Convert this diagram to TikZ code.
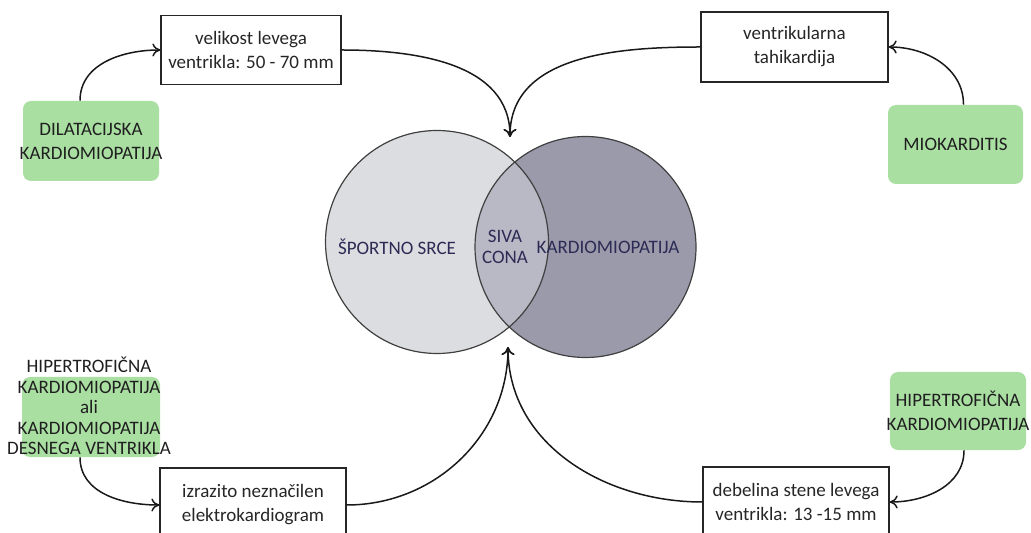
\documentclass[tikz,border=0pt]{standalone}
\usepackage{fontspec}
\setmainfont{Carlito}
\usepackage{xcolor}
\usetikzlibrary{arrows.meta}
\definecolor{zelena}{HTML}{AADFA2}
\definecolor{sportna}{HTML}{DCDDE0}
\definecolor{kardio}{HTML}{9A9AAB}
\definecolor{siva}{HTML}{B9B9C5}
\definecolor{temna}{HTML}{2B2B55}
\definecolor{besedilo}{HTML}{262626}
\tikzset{
  okvir/.style={draw=black!85, line width=0.65pt, fill=white, align=center, inner sep=0pt, text=besedilo},
  ozadje/.style={fill=zelena, rounded corners=4pt, inner sep=0pt},
  zeleno/.style={align=center, inner sep=0pt, text=black!88},
  krogtekst/.style={align=center, inner sep=0pt, text=temna},
  rob/.style={draw=black!75, line width=0.6pt},
  puscica/.style={-{To[length=4pt,width=6.5pt]}, line width=0.75pt, draw=black!90}
}
\begin{document}
\begin{tikzpicture}
    [x=0.5pt, y=-0.5pt, font=\fontsize{9.5}{12}\selectfont]
    \useasboundingbox (0,0) rectangle (1031,533);
    %venn
    \fill[sportna] (437,242) circle[radius=55.75pt];
    \fill[kardio] (585.5,247) circle[radius=55.25pt];
    \begin{scope}
    \clip (437,242) circle[radius=55.75pt];
    \fill[siva] (585.5,247) circle[radius=55.25pt];
    \end{scope}
    \draw[rob] (437,242) circle[radius=55.75pt];
    \draw[rob] (585.5,247) circle[radius=55.25pt];
    \node[krogtekst] (sportno) at (397,247) {ŠPORTNO SRCE};
    \node[krogtekst, font=\fontsize{9.5}{10.8}\selectfont] (siva) at (505,247) {SIVA\\CONA};
    \node[krogtekst] (kardiom) at (608,247) {KARDIOMIOPATIJA};
    \coordinate (zgoraj) at (510,137);
    \coordinate (spodaj) at (508,347);
    %boxes
    \node[okvir, minimum width=90pt, minimum height=34.5pt] (vel) at (251,50) {velikost levega\\ventrikla: 50 - 70 mm};
    \node[okvir, minimum width=93.5pt, minimum height=35pt] (tah) at (794.5,47) {ventrikularna\\tahikardija};
    \node[okvir, minimum width=93pt, minimum height=37pt] (izr) at (253,505) {izrazito neznačilen\\elektrokardiogram};
    \node[okvir, minimum width=93pt, minimum height=35pt] (deb) at (796,502) {debelina stene levega\\ventrikla: 13 -15 mm};
    %green boxes
    \node[ozadje, minimum width=68pt, minimum height=40pt] (dilbg) at (91,141) {};
    \node[zeleno] (dil) at (91,141) {DILATACIJSKA\\KARDIOMIOPATIJA};
    \node[ozadje, minimum width=67.5pt, minimum height=39.5pt] (miobg) at (955.5,144.5) {};
    \node[zeleno] (mio) at (955.5,144.5) {MIOKARDITIS};
    \node[ozadje, minimum width=69pt, minimum height=40pt] (hipbg) at (91,417) {};
    \node[zeleno, font=\fontsize{9.5}{10.3}\selectfont] (hip) at (89,406) {HIPERTROFIČNA\\KARDIOMIOPATIJA\\ali\\KARDIOMIOPATIJA\\DESNEGA VENTRIKLA};
    \node[ozadje, minimum width=68pt, minimum height=39pt] (hiptbg) at (958,411) {};
    \node[zeleno] (hipt) at (958,411) {HIPERTROFIČNA\\KARDIOMIOPATIJA};
    %arrows
    \draw[puscica] ([xshift=-5.5pt]dilbg.north) to[out=90,in=180] (vel.west);
    \draw[puscica] (vel.east) to[out=0,in=90] (zgoraj);
    \draw[puscica] (tah.west) to[out=180,in=90] (zgoraj);
    \draw[puscica] ([xshift=4pt]miobg.north) to[out=90,in=0] (tah.east);
    \draw[puscica] ([xshift=-5.5pt]hipbg.south) to[out=-90,in=180] (izr.west);
    \draw[puscica] (izr.east) to[out=0,in=-90] (spodaj);
    \draw[puscica] (deb.west) to[out=180,in=-90] (spodaj);
    \draw[puscica] ([xshift=3pt]hiptbg.south) to[out=-90,in=0] (deb.east);
\end{tikzpicture}
\end{document}
